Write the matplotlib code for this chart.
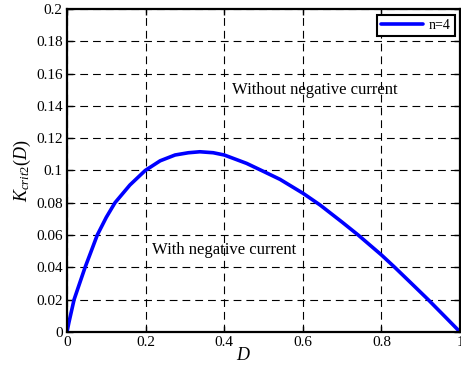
import matplotlib
matplotlib.use("Agg")
import matplotlib.pyplot as plt

# K_crit2(D) for n=4
duty = [0, 0.005, 0.018, 0.03, 0.046, 0.06, 0.077, 0.1, 0.122, 0.16, 0.199,
        0.237, 0.275, 0.309, 0.338, 0.372, 0.4, 0.457, 0.495, 0.542, 0.601,
        0.644, 0.7, 0.741, 0.8, 0.834, 0.88, 0.919, 0.96, 1.0]
k_crit = [0, 0.006, 0.02, 0.0286, 0.04, 0.049, 0.06, 0.071, 0.08, 0.091, 0.1,
          0.106, 0.1096, 0.111, 0.1116, 0.111, 0.1096, 0.1044, 0.1, 0.0945,
          0.0858, 0.0786, 0.068, 0.06, 0.0477, 0.04, 0.0292, 0.02, 0.0099, 0]
x_ticks = [0, 0.2, 0.4, 0.6, 0.8, 1]
x_tick_labels = ["0", "0.2", "0.4", "0.6", "0.8", "1"]
y_ticks = [0, 0.02, 0.04, 0.06, 0.08, 0.1, 0.12, 0.14, 0.16, 0.18, 0.2]
y_tick_labels = ["0", "0.02", "0.04", "0.06", "0.08", "0.1", "0.12", "0.14",
                 "0.16", "0.18", "0.2"]

plt.rcParams.update({
    "font.family": ["Liberation Serif", "DejaVu Serif"],
    "mathtext.fontset": "custom",
    "mathtext.rm": "Liberation Serif",
    "mathtext.it": "Liberation Serif:italic",
})

fig = plt.figure(figsize=(4.61, 3.69), dpi=100)
ax = fig.add_axes([0.1453, 0.1003, 0.8527, 0.8753])

ax.plot(duty, k_crit, color="#0000ff", linewidth=2.6, label="n=4",
        solid_joinstyle="round", solid_capstyle="round")

ax.set_xlim(0, 1)
ax.set_ylim(0, 0.2)
ax.set_xticks(x_ticks)
ax.set_xticklabels(x_tick_labels)
ax.set_yticks(y_ticks)
ax.set_yticklabels(y_tick_labels)
ax.tick_params(direction="in", labelsize=11, top=True, right=True,
               length=4, width=1, pad=3)
ax.grid(True, color="black", linestyle=(0, (7, 4.5)), linewidth=0.8)
for s in ax.spines.values():
    s.set_linewidth(1.6)

ax.set_xlabel(r"$D$", fontsize=13)
ax.xaxis.set_label_coords(0.45, -0.045)
ax.set_ylabel(r"$K_{crit2}(D)$", fontsize=13, labelpad=2)

ax.text(0.42, 0.150, "Without negative current", fontsize=12, va="center")
ax.text(0.216, 0.051, "With negative current", fontsize=12, va="center")

leg = ax.legend(loc="upper right", fontsize=10, handlelength=3.0,
                borderaxespad=0.4, fancybox=False, framealpha=1,
                borderpad=0.3, handletextpad=0.4)
leg.get_frame().set_edgecolor("black")
leg.get_frame().set_linewidth(1.5)

fig.savefig("out.png", dpi=100)
